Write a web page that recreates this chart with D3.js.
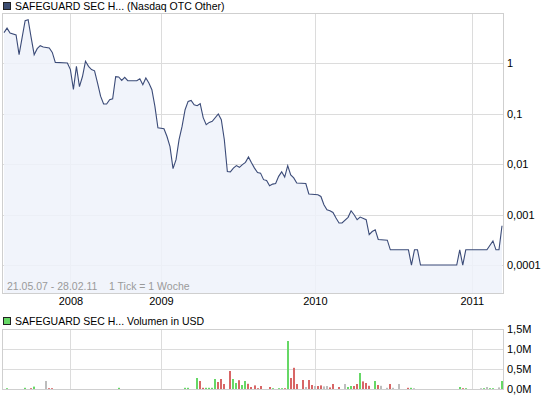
<!DOCTYPE html>
<html>
<head>
<meta charset="utf-8">
<script src="https://cdn.jsdelivr.net/npm/d3@7"></script>
<style>
  body { margin: 0; background: #fff; }
  svg { display: block; font-family: "Liberation Sans", Arial, sans-serif; }
  .tick text { font-size: 11px; fill: #000; }
</style>
</head>
<body>
<div id="chart"></div>
<script>
// Weekly ticks (index of the week in the series) and closing prices in USD
var priceWeek = [0, 1, 2, 4, 5, 6, 7, 8, 9, 10, 11, 12, 13, 15, 16, 17, 21, 22, 23, 24,
    25, 26, 27, 28, 29, 30, 31, 32, 33, 34, 35, 36, 37, 38, 39, 40, 41, 44, 45, 46,
    47, 48, 49, 50, 51, 53, 54, 55, 56, 57, 58, 59, 60, 61, 62, 63, 64, 65, 66, 67,
    68, 69, 71, 72, 73, 74, 75, 76, 77, 78, 79, 80, 81, 82, 83, 84, 85, 86, 87, 88,
    89, 90, 91, 92, 93, 94, 95, 96, 97, 100, 101, 104, 105, 106, 107, 108, 109, 110, 111, 112,
    114, 115, 116, 117, 118, 120, 121, 122, 123, 124, 127, 128, 134, 135, 136, 137, 138, 150, 151, 152,
    153, 160, 162, 163, 164, 165];
var priceClose = [4.0, 4.9, 3.9, 3.6, 1.46, 3.17, 6.9, 7.2, 3.17, 1.46, 1.92, 2.2, 2.07, 1.98, 1.62, 1.03, 1.0, 0.74, 0.3, 0.86,
    0.34, 0.54, 1.08, 0.86, 0.74, 0.7, 0.4, 0.22, 0.154, 0.154, 0.188, 0.196, 0.535, 0.528, 0.452, 0.519, 0.446, 0.446, 0.489, 0.372,
    0.505, 0.402, 0.296, 0.138, 0.052, 0.05, 0.035, 0.022, 0.0081, 0.0122, 0.0303, 0.0556, 0.119, 0.174, 0.182, 0.149, 0.143, 0.156, 0.083, 0.06,
    0.0667, 0.0698, 0.0977, 0.0754, 0.0303, 0.0071, 0.007, 0.0083, 0.0093, 0.0086, 0.0097, 0.0108, 0.0138, 0.0106, 0.0083, 0.0068, 0.0066, 0.0049, 0.0047, 0.0037,
    0.004, 0.0041, 0.0057, 0.007, 0.0055, 0.0093, 0.0061, 0.0053, 0.0042, 0.0041, 0.00255, 0.00247, 0.00228, 0.00156, 0.00124, 0.00119, 0.0011, 0.00085, 0.00068, 0.00068,
    0.00088, 0.00119, 0.00099, 0.00079, 0.00089, 0.00079, 0.0004, 0.00046, 0.0005, 0.00032, 0.00031, 0.0002, 0.0002, 0.0001, 0.0002, 0.0002, 0.0001, 0.0001, 0.0002, 0.0001,
    0.0002, 0.0002, 0.0003, 0.0002, 0.0002, 0.0006];

// Weekly volume in million USD, with the direction that colours the bar
var volWeek = [1, 7, 9, 10, 14, 15, 16, 38, 60, 61, 64, 65, 66, 67, 68, 69, 70, 71, 72, 73,
    75, 76, 77, 78, 79, 80, 81, 82, 83, 84, 85, 88, 89, 91, 92, 93, 94, 95, 96, 97,
    99, 100, 101, 102, 103, 104, 105, 106, 107, 108, 109, 111, 113, 114, 115, 116, 117, 118, 119, 120,
    121, 123, 124, 125, 127, 128, 129, 131, 134, 135, 136, 151, 152, 153, 158, 159, 160, 161, 162, 164,
    165];
var volValue = [0.02, 0.03, 0.02, 0.06, 0.2, 0.02, 0.02, 0.03, 0.03, 0.03, 0.275, 0.2, 0.03, 0.03, 0.03, 0.03, 0.25, 0.175, 0.25, 0.125,
    0.45, 0.25, 0.15, 0.22, 0.1, 0.2, 0.13, 0.05, 0.09, 0.02, 0.075, 0.05, 0.02, 0.02, 0.02, 0.02, 1.2, 0.275, 0.53, 0.125,
    0.225, 0.05, 0.225, 0.1, 0.075, 0.075, 0.09, 0.065, 0.075, 0.04, 0.125, 0.05, 0.125, 0.05, 0.075, 0.075, 0.125, 0.4, 0.19, 0.15,
    0.08, 0.2, 0.1, 0.08, 0.03, 0.125, 0.03, 0.125, 0.03, 0.03, 0.02, 0.05, 0.02, 0.02, 0.02, 0.02, 0.05, 0.02, 0.02, 0.04,
    0.2];
var volDir = ["u", "u", "d", "u", "n", "d", "d", "u", "u", "u", "u", "d", "d", "u", "u", "u", "u", "d", "d", "d",
    "d", "u", "u", "d", "u", "u", "d", "d", "d", "d", "d", "d", "u", "u", "u", "d", "u", "d", "d", "d",
    "d", "n", "d", "d", "n", "d", "d", "n", "n", "d", "d", "d", "n", "u", "u", "d", "d", "u", "d", "d",
    "d", "u", "d", "n", "n", "d", "n", "n", "d", "u", "n", "u", "d", "u", "n", "u", "n", "u", "u", "n",
    "u"];

// Axis ticks
var yearWeek = [22, 52, 103, 155];
var yearLabel = ["2008", "2009", "2010", "2011"];
var priceTicks = [1, 0.1, 0.01, 0.001, 0.0001];
var volTicks = [0, 0.5, 1.0, 1.5];

var width = 545, height = 398;
var plot = {left: 2, right: 503, top: 13, bottom: 293};
var vplot = {top: 329, bottom: 389};

var svg = d3.select("#chart").append("svg")
    .attr("width", width)
    .attr("height", height);

var x = d3.scaleLinear().domain([0, 165]).range([4, 502]);
var y = d3.scaleLog().domain([Math.pow(10, -4.554), Math.pow(10, 0.99)]).range([plot.bottom, plot.top]);
var yv = d3.scaleLinear().domain([0, 1.5]).range([vplot.bottom, vplot.top]);

var commaFmt = function(d) {
    var s = d >= 1 ? String(d) : d.toFixed(Math.round(-Math.log10(d)));
    return s.replace(".", ",");
};

var gridColor = "#dcdcdc";

// ---- price panel ----
var price = priceWeek.map(function(w, i) { return {w: w, v: priceClose[i]}; });

// gridlines
svg.append("g").selectAll("line.hy")
    .data(priceTicks).enter().append("line")
    .attr("x1", plot.left).attr("x2", plot.right)
    .attr("y1", function(d) { return Math.round(y(d)) + 0.5; })
    .attr("y2", function(d) { return Math.round(y(d)) + 0.5; })
    .attr("stroke", gridColor);

svg.append("g").selectAll("line.vx")
    .data(yearWeek).enter().append("line")
    .attr("x1", function(d) { return Math.round(x(d)) + 0.5; })
    .attr("x2", function(d) { return Math.round(x(d)) + 0.5; })
    .attr("y1", plot.top).attr("y2", plot.bottom)
    .attr("stroke", gridColor);

// area under the line
var area = d3.area()
    .x(function(d) { return x(d.w); })
    .y0(plot.bottom)
    .y1(function(d) { return y(d.v); });

svg.append("path")
    .attr("d", area(price))
    .attr("fill", "#eef2fa")
    .attr("fill-opacity", 0.85);

var valueline = d3.line()
    .x(function(d) { return x(d.w); })
    .y(function(d) { return y(d.v); });

svg.append("path")
    .attr("d", valueline(price))
    .attr("fill", "none")
    .attr("stroke", "#3b4b78")
    .attr("stroke-width", 1.1);

// frame
svg.append("rect")
    .attr("x", plot.left + 0.5).attr("y", plot.top + 0.5)
    .attr("width", plot.right - plot.left).attr("height", plot.bottom - plot.top)
    .attr("fill", "none").attr("stroke", "#cfcfcf");

// right axis
var yAxis = d3.axisRight(y).tickValues(priceTicks).tickSize(0).tickPadding(4).tickFormat(commaFmt);
svg.append("g")
    .attr("transform", "translate(" + plot.right + ",0)")
    .call(yAxis)
    .call(function(g) { g.select(".domain").remove(); });

// year axis
var xAxis = d3.axisBottom(x).tickValues(yearWeek).tickSize(0).tickPadding(4)
    .tickFormat(function(d, i) { return yearLabel[i]; });
svg.append("g")
    .attr("transform", "translate(0," + plot.bottom + ")")
    .call(xAxis)
    .call(function(g) { g.select(".domain").remove(); });

// range note
svg.append("text")
    .attr("x", 7).attr("y", 290)
    .attr("font-size", 10.5).attr("fill", "#9a9a9a")
    .text("21.05.07 - 28.02.11    1 Tick = 1 Woche")
    .style("white-space", "pre");

// legend
svg.append("rect").attr("x", 3.5).attr("y", 2.5).attr("width", 7).attr("height", 7)
    .attr("fill", "#3c4d72").attr("stroke", "#222");
svg.append("text").attr("x", 15).attr("y", 10)
    .attr("font-size", 10.5).text("SAFEGUARD SEC H... (Nasdaq OTC Other)");

// ---- volume panel ----
svg.append("g").selectAll("line")
    .data([0.5, 1.0]).enter().append("line")
    .attr("x1", plot.left).attr("x2", plot.right)
    .attr("y1", function(d) { return Math.round(yv(d)) + 0.5; })
    .attr("y2", function(d) { return Math.round(yv(d)) + 0.5; })
    .attr("stroke", gridColor);

svg.append("g").selectAll("line")
    .data(yearWeek).enter().append("line")
    .attr("x1", function(d) { return Math.round(x(d)) + 0.5; })
    .attr("x2", function(d) { return Math.round(x(d)) + 0.5; })
    .attr("y1", vplot.top).attr("y2", vplot.bottom)
    .attr("stroke", gridColor);

var dirColor = {u: "#66d866", d: "#d86666", n: "#bdbdbd"};
svg.append("g").selectAll("rect")
    .data(volWeek).enter().append("rect")
    .attr("x", function(d) { return Math.round(x(d)) - 1; })
    .attr("width", 2)
    .attr("y", function(d, i) { return yv(volValue[i]); })
    .attr("height", function(d, i) { return vplot.bottom - yv(volValue[i]); })
    .attr("fill", function(d, i) { return dirColor[volDir[i]]; });

svg.append("rect")
    .attr("x", plot.left + 0.5).attr("y", vplot.top + 0.5)
    .attr("width", plot.right - plot.left).attr("height", vplot.bottom - vplot.top)
    .attr("fill", "none").attr("stroke", "#cfcfcf");

var vAxis = d3.axisRight(yv).tickValues(volTicks).tickSize(0).tickPadding(4)
    .tickFormat(function(d) { return d.toFixed(1).replace(".", ",") + "M"; });
svg.append("g")
    .attr("transform", "translate(" + plot.right + ",0)")
    .call(vAxis)
    .call(function(g) { g.select(".domain").remove(); });

svg.append("rect").attr("x", 3.5).attr("y", 317.5).attr("width", 7).attr("height", 7)
    .attr("fill", "#66d866").attr("stroke", "#222");
svg.append("text").attr("x", 15).attr("y", 325)
    .attr("font-size", 10.5).text("SAFEGUARD SEC H... Volumen in USD");
</script>
</body>
</html>
